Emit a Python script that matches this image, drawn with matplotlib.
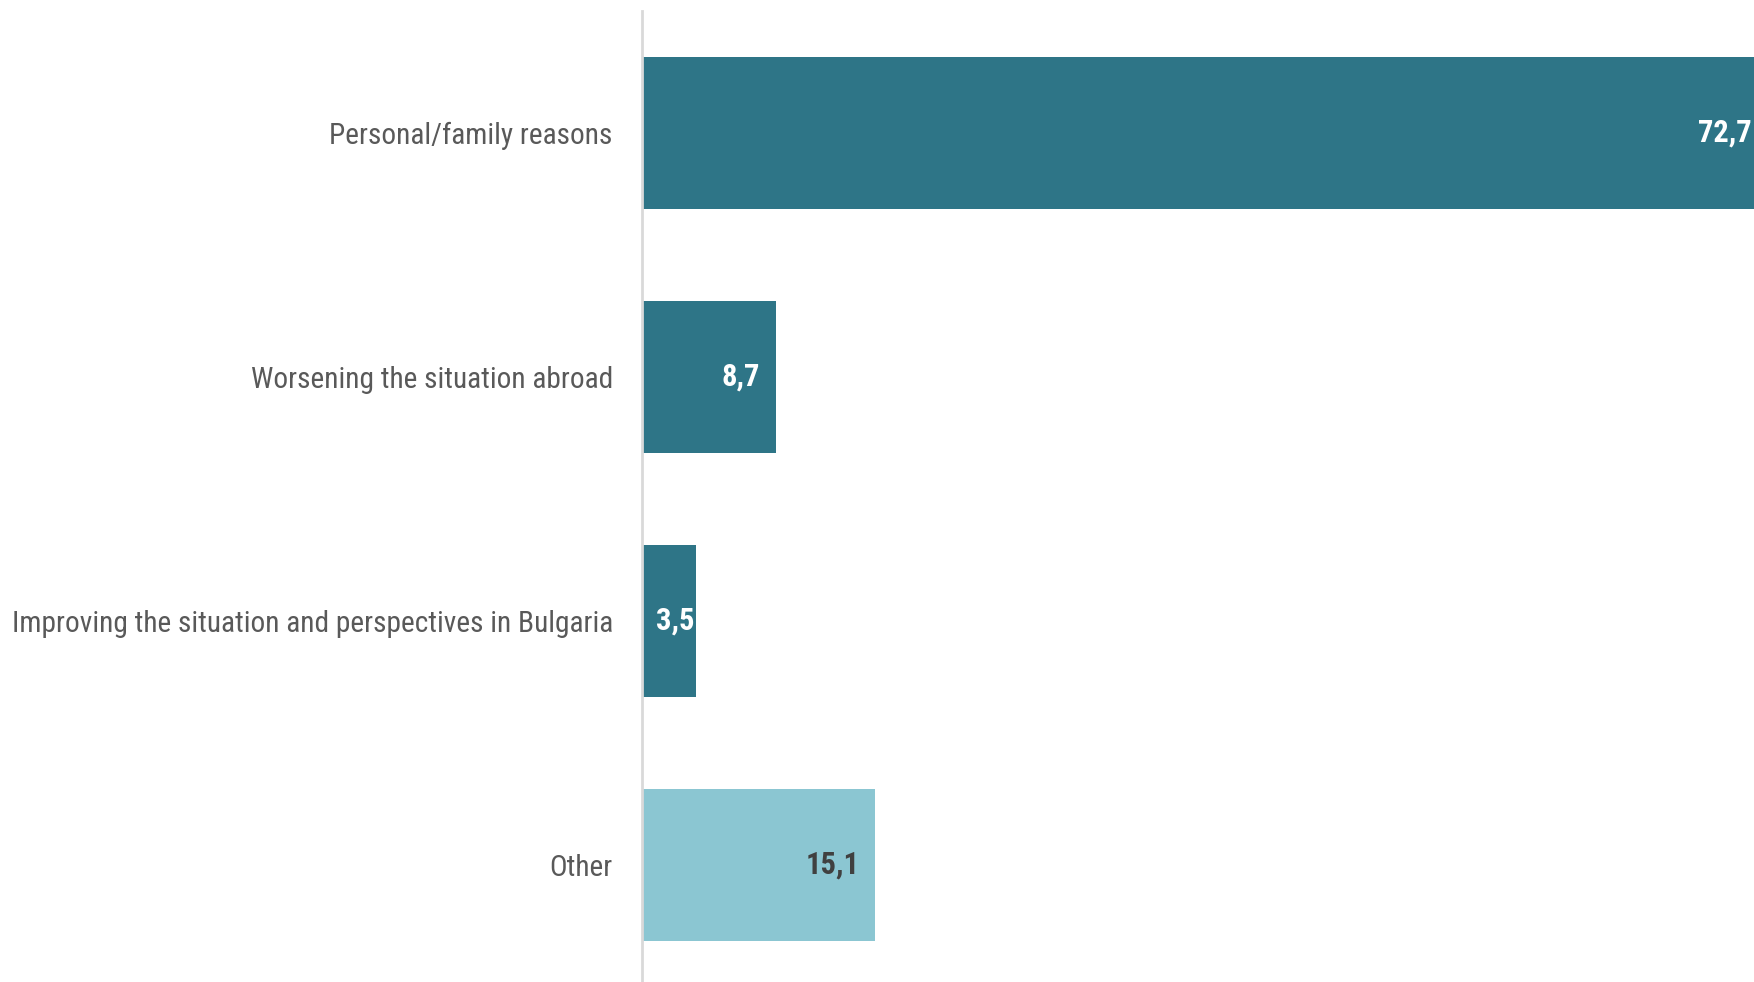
import matplotlib.pyplot as plt
from matplotlib import font_manager
from matplotlib.transforms import offset_copy

categories = ["Personal/family reasons",
              "Worsening the situation abroad",
              "Improving the situation and perspectives in Bulgaria",
              "Other"]
values = [72.7, 8.7, 3.5, 15.1]
bar_colors = ["#2E7587", "#2E7587", "#2E7587", "#8BC6D2"]
label_colors = ["white", "white", "white", "#404040"]

# want a narrow font (source uses Arial Narrow)
names = {f.name for f in font_manager.fontManager.ttflist}
fam = "DejaVu Sans"
for cand in ["Liberation Sans Narrow", "Roboto Condensed", "Open Sans Condensed"]:
    if cand in names:
        fam = cand
        break
plt.rcParams['font.family'] = [fam, "DejaVu Sans"]

fig = plt.figure(figsize=(17.54, 9.82), dpi=100)
ax = fig.add_axes([642 / 1754, 0, 1 - 642 / 1754, 1 - 11 / 982])

y = list(range(len(categories)))
ax.barh(y, values, height=0.62, color=bar_colors)
xmax = 72.0
ax.set_xlim(0, xmax)
ax.set_ylim(3.48, -0.5)

ax.set_yticks(y)
ax.set_yticklabels(categories, fontsize=21.5, color="#595959")
ax.tick_params(axis="y", length=0, pad=21)
ax.set_xticks([])
for s in ["top", "right", "bottom"]:
    ax.spines[s].set_visible(False)
ax.spines["left"].set_color("#D9D9D9")
ax.spines["left"].set_linewidth(2)

fig.canvas.draw()
r = fig.canvas.get_renderer()
for i, v in enumerate(values):
    end = min(v, xmax)
    t = ax.text(end, i, f"{v:.1f}".replace(".", ","),
                ha="right", va="center", fontsize=22, fontweight="bold",
                color=label_colors[i])
    tw = t.get_window_extent(r).width
    bar_px = ax.transData.transform((end, 0))[0] - ax.transData.transform((0, 0))[0]
    pad = 16 if (v > xmax or bar_px > tw + 24) else 2
    if v > xmax:
        pad = 2
    t.set_transform(offset_copy(ax.transData, fig=fig, x=-pad, y=0, units="dots"))

# shrink tick labels if the fallback font is too wide for the left margin
widest = max(t.get_window_extent(r).width for t in ax.get_yticklabels())
if widest > 600:
    for t in ax.get_yticklabels():
        t.set_fontsize(21.5 * 600 / widest)

fig.savefig("out.png", dpi=100)
